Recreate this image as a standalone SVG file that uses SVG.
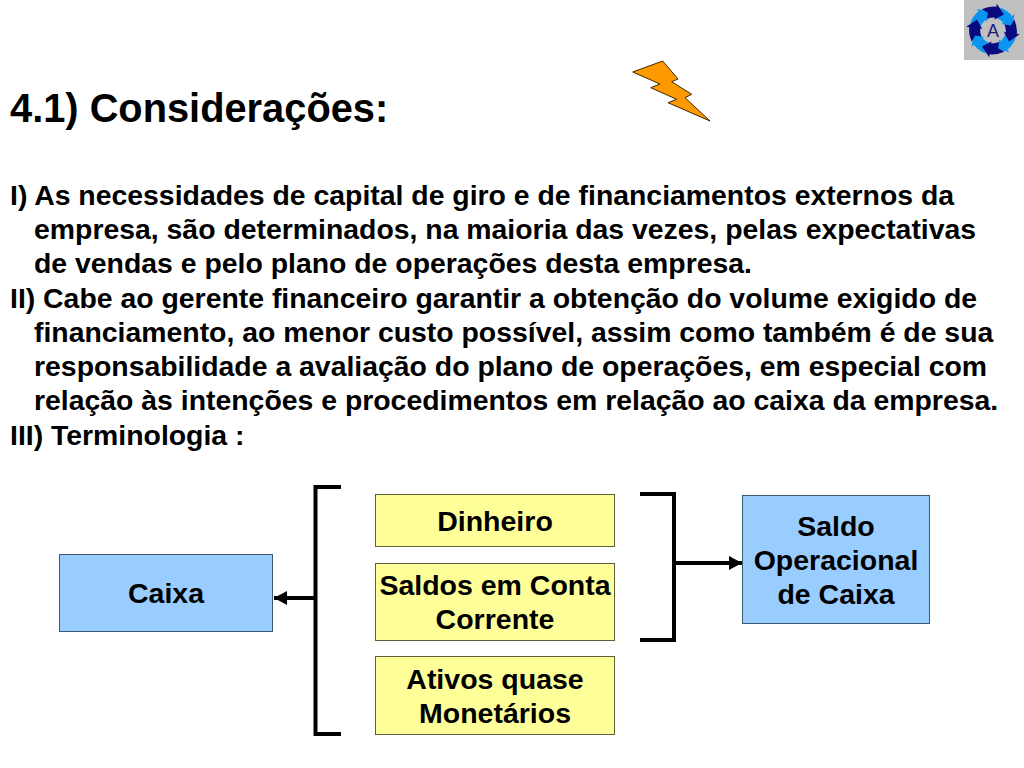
<svg xmlns="http://www.w3.org/2000/svg" width="1024" height="768" viewBox="0 0 1024 768">
<style>
text{font-family:"Liberation Sans",Arial,sans-serif;font-weight:700;fill:#000}
.b{font-size:28.4px}
.c{font-size:28.5px;text-anchor:middle}
.y{fill:#ffff99;stroke:#5f5f3c;stroke-width:1}
.u{fill:#99ccff;stroke:#3c5a70;stroke-width:1}
.k{fill:none;stroke:#000;stroke-width:4}
</style>
<defs>
<marker id="ah" markerUnits="userSpaceOnUse" markerWidth="14" markerHeight="14" refX="13" refY="7" orient="auto"><path d="M0 0L13 7L0 14Z" fill="#000"/></marker>
<path id="seg" d="M-11.300-21.200Q-4-24.500 3.300-23.800L3.800-26.700L11-16L1.500-10.900L1.800-12.900Q-2.500-13-6.100-11.500L-5.100-17.800Z"/>
</defs>
<rect width="1024" height="768" fill="#fff"/>
<g id="logo">
<rect x="964" y="0" width="60" height="60" fill="#c0c0c0"/>
<g transform="translate(993 30.500)">
<g fill="#0a96f0"><use href="#seg" transform="rotate(45)"/><use href="#seg" transform="rotate(135)"/><use href="#seg" transform="rotate(225)"/><use href="#seg" transform="rotate(315)"/></g>
<g fill="#0a0a80"><use href="#seg" transform="rotate(0)"/><use href="#seg" transform="rotate(90)"/><use href="#seg" transform="rotate(180)"/><use href="#seg" transform="rotate(270)"/></g>
</g>
<text x="993" y="37" font-size="18" text-anchor="middle" style="fill:#1a1a80;font-weight:400">A</text>
</g>
<g id="bolt"><polygon points="632.700,72 662.700,61 678,79 671.700,81.700 691.700,94.300 685,97.700 710,121 668,102.700 676.700,99.300 650.700,87.700 660,84" fill="#ff9900" stroke="#3c2800" stroke-width="1"/></g>
<g id="text">
<text x="10" y="122" style="font-size:39.800px">4.1) Considerações:</text>
<text class="b" x="10" y="205">I) As necessidades de capital de giro e de financiamentos externos da</text>
<text class="b" x="34" y="239">empresa, são determinados, na maioria das vezes, pelas expectativas</text>
<text class="b" x="34" y="273">de vendas e pelo plano de operações desta empresa.</text>
<text class="b" x="10" y="308">II) Cabe ao gerente financeiro garantir a obtenção do volume exigido de</text>
<text class="b" x="34" y="342">financiamento, ao menor custo possível, assim como também é de sua</text>
<text class="b" x="34" y="376">responsabilidade a avaliação do plano de operações, em especial com</text>
<text class="b" x="34" y="410">relação às intenções e procedimentos em relação ao caixa da empresa.</text>
<text class="b" x="10" y="445">III) Terminologia :</text>
</g>
<g id="connectors">
<path class="k" d="M341 487H315.500V734H341"/>
<path class="k" d="M640 494H674V640H640"/>
<path d="M315 598H274" fill="none" stroke="#000" stroke-width="4" marker-end="url(#ah)"/>
<path d="M674 563H742" fill="none" stroke="#000" stroke-width="4" marker-end="url(#ah)"/>
</g>
<g id="caixa"><rect class="u" x="59.500" y="554.500" width="213" height="77"/><text class="c" x="166" y="603">Caixa</text></g>
<g id="dinheiro"><rect class="y" x="375.500" y="494.500" width="239" height="52"/><text class="c" x="495" y="531">Dinheiro</text></g>
<g id="saldos"><rect class="y" x="375.500" y="563.500" width="239" height="77"/><text class="c" x="495" y="595">Saldos em Conta</text><text class="c" x="495" y="629">Corrente</text></g>
<g id="ativos"><rect class="y" x="375.500" y="656.500" width="239" height="78"/><text class="c" x="495" y="689">Ativos quase</text><text class="c" x="495" y="723">Monetários</text></g>
<g id="saldo-op"><rect class="u" x="742.500" y="495.500" width="187" height="128"/><text class="c" x="836" y="536">Saldo</text><text class="c" x="836" y="570">Operacional</text><text class="c" x="836" y="604">de Caixa</text></g>
</svg>
